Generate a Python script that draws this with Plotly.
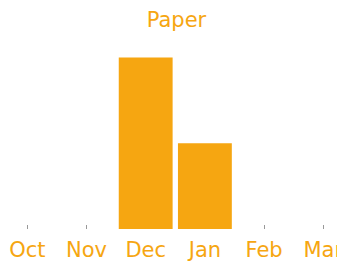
import plotly.graph_objects as go

months = ["Oct", "Nov", "Dec", "Jan", "Feb", "Mar"]
values = [0, 0, 2, 1, 0, 0]
title_text = "Paper"
color = "#F6A611"

fig = go.Figure(go.Bar(x=months, y=values, marker_color=color, marker_line_width=0))
fig.update_layout(
    width=337, height=258,
    margin=dict(l=0, r=0, t=41, b=37, autoexpand=False),
    paper_bgcolor="white", plot_bgcolor="white",
    bargap=0.09,
    showlegend=False,
    title=dict(text=title_text, x=0.5, xanchor="center", y=1 - 12 / 258, yanchor="middle",
               font=dict(family="DejaVu Sans", size=21, color=color)),
)
fig.update_xaxes(
    type="category", range=[-0.326, 5.367],
    automargin=False,
    showgrid=False, zeroline=False, showline=False,
    ticks="inside", ticklen=4, tickwidth=1, tickcolor="#999999",
    ticklabelstandoff=6, ticklabeloverflow="allow",
    layer="below traces",
    tickfont=dict(family="DejaVu Sans", size=21, color=color),
)
fig.update_yaxes(range=[0, 2.1], visible=False, showgrid=False, zeroline=False, automargin=False)
fig.write_html("out.html")
